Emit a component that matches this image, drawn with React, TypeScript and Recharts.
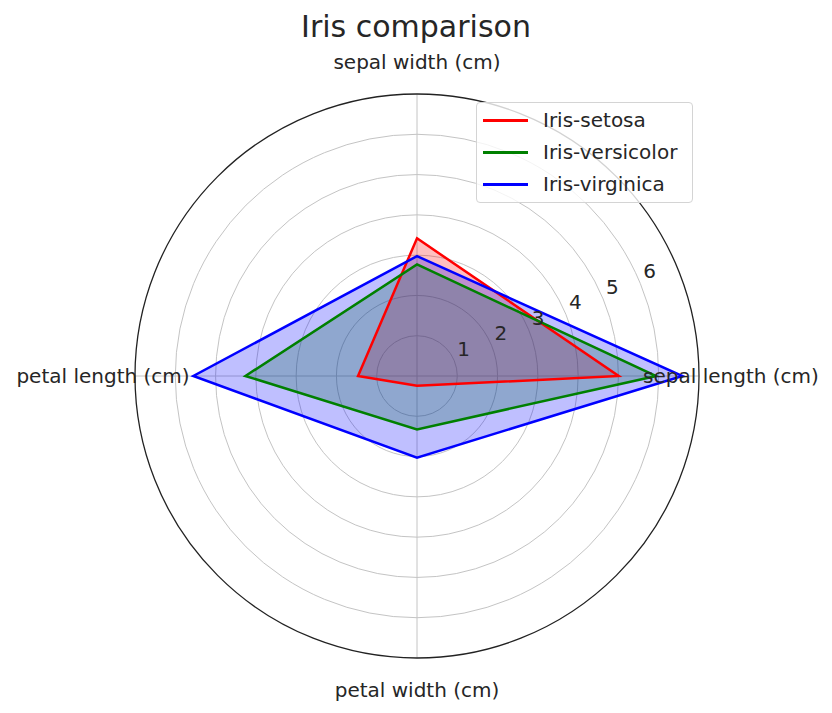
import React from 'react';
import {
  RadarChart,
  Radar,
  PolarGrid,
  PolarAngleAxis,
  PolarRadiusAxis,
  Legend,
} from 'recharts';

// Mean measurements per species (cm), listed clockwise from the top axis
const features = ['sepal width (cm)', 'sepal length (cm)', 'petal width (cm)', 'petal length (cm)'];
const setosa = [3.418, 5.006, 0.244, 1.464];
const versicolor = [2.77, 5.936, 1.326, 4.26];
const virginica = [2.974, 6.588, 2.026, 5.552];

const seriesKeys = ['setosa', 'versicolor', 'virginica'];
const seriesNames = ['Iris-setosa', 'Iris-versicolor', 'Iris-virginica'];
const seriesColors = ['#ff0000', '#008000', '#0000ff'];

const radiusTicks = [1, 2, 3, 4, 5, 6];
const radiusMax = 6.92;

const FONT = '"DejaVu Sans", sans-serif';
const TEXT = '#262626';

const data = features.map((feature, i) => ({
  feature,
  setosa: setosa[i],
  versicolor: versicolor[i],
  virginica: virginica[i],
}));

const AngleTick = (props: any) => {
  const { x, y, payload } = props;
  return (
    <text
      x={x}
      y={y}
      textAnchor="middle"
      dominantBaseline="central"
      fontSize={20}
      fontFamily={FONT}
      fill={TEXT}
    >
      {payload.value}
    </text>
  );
};

const RadiusTick = (props: any) => {
  const { x, y, payload } = props;
  return (
    <text x={x + 3} y={y - 5} textAnchor="start" fontSize={20} fontFamily={FONT} fill={TEXT}>
      {payload.value}
    </text>
  );
};

const LegendBox = () => (
  <div
    style={{
      width: 215,
      height: 98,
      border: '1px solid #d4d4d4',
      borderRadius: 4,
      background: 'rgba(255,255,255,0.8)',
      paddingTop: 1,
      fontFamily: FONT,
      fontSize: 20,
      color: TEXT,
    }}
  >
    {seriesNames.map((name, i) => (
      <div key={name} style={{ height: 32, display: 'flex', alignItems: 'center' }}>
        <span
          style={{
            display: 'inline-block',
            marginLeft: 6,
            width: 45,
            height: 3,
            background: seriesColors[i],
          }}
        />
        <span style={{ marginLeft: 15 }}>{name}</span>
      </div>
    ))}
  </div>
);

export default function App() {
  return (
    <div style={{ position: 'relative', width: 816, height: 697 }}>
      <div
        style={{
          position: 'absolute',
          left: 0,
          top: 4,
          width: 816,
          textAlign: 'center',
          fontFamily: FONT,
          fontSize: 30,
          lineHeight: '30px',
          color: TEXT,
        }}
      >
        Iris comparison
      </div>
      <RadarChart
        width={816}
        height={697}
        data={data}
        cx={409}
        cy={368}
        outerRadius={282}
        margin={{ top: 0, right: 0, bottom: 0, left: 0 }}
      >
        <PolarGrid gridType="circle" stroke="#c4c4c4" strokeWidth={1} />
        <PolarAngleAxis
          dataKey="feature"
          tick={<AngleTick />}
          tickLine={false}
          tickSize={32}
          axisLineType="circle"
          axisLine={{ stroke: '#222', strokeWidth: 1.3 }}
        />
        {/* fills first, then outlines on top */}
        {seriesKeys.map((key, i) => (
          <Radar
            key={`fill-${key}`}
            name={seriesNames[i]}
            dataKey={key}
            stroke="none"
            fill={seriesColors[i]}
            fillOpacity={0.25}
            isAnimationActive={false}
          />
        ))}
        {seriesKeys.map((key, i) => (
          <Radar
            key={`line-${key}`}
            name={seriesNames[i]}
            dataKey={key}
            stroke={seriesColors[i]}
            strokeWidth={2.5}
            fill="none"
            fillOpacity={0}
            isAnimationActive={false}
          />
        ))}
        <PolarRadiusAxis
          angle={22.5}
          type="number"
          domain={[0, radiusMax]}
          ticks={radiusTicks}
          axisLine={false}
          tickLine={false}
          tick={<RadiusTick />}
        />
        <Legend
          layout="vertical"
          align="right"
          verticalAlign="top"
          content={<LegendBox />}
          wrapperStyle={{ left: 468, top: 94, width: 217 }}
        />
      </RadarChart>
    </div>
  );
}
